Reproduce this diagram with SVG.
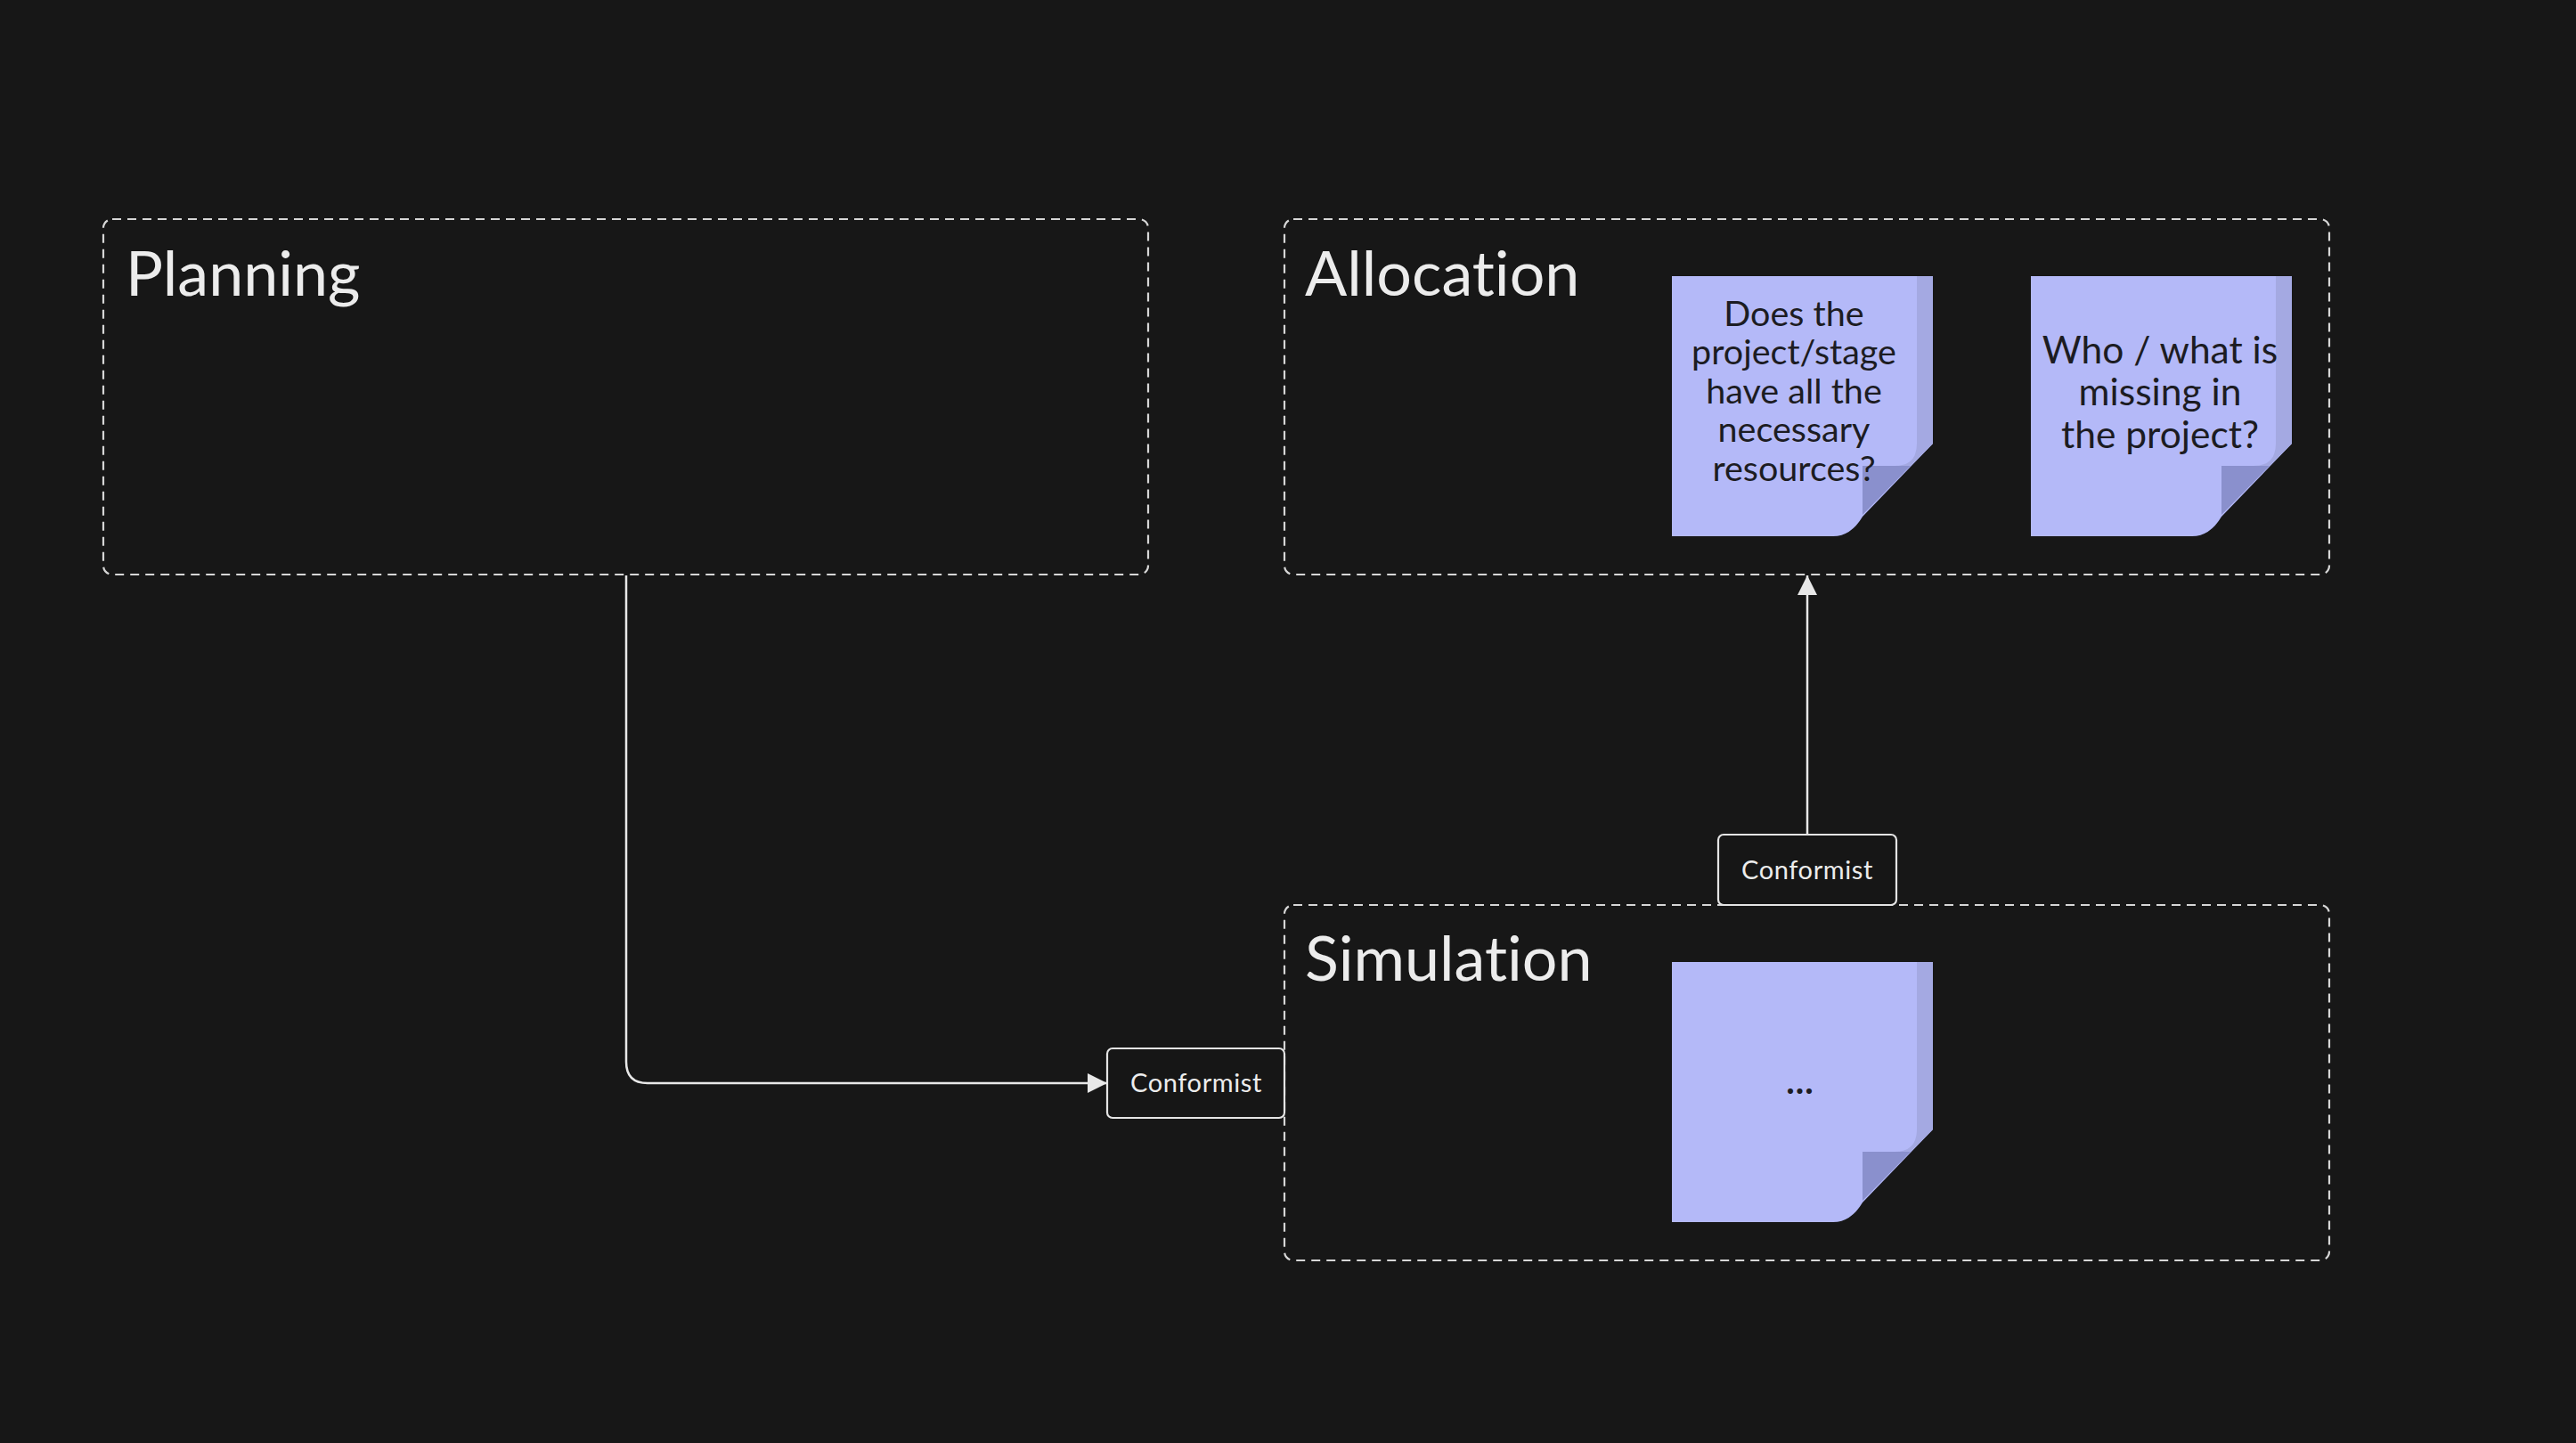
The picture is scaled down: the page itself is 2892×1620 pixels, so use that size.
<svg xmlns="http://www.w3.org/2000/svg" width="2892" height="1620" viewBox="0 0 2892 1620">
<defs>
<style>
text{font-variant-ligatures:none;font-feature-settings:"liga" 0,"clig" 0}
.ctx{fill:none;stroke:#d6d6d6;stroke-width:2.2;stroke-dasharray:10 7}
.title{font-family:Lato,"Liberation Sans",sans-serif;font-size:70px;fill:#ececec}
.note-text{font-family:Lato,"Liberation Sans",sans-serif;fill:#1c1c22;text-anchor:middle}
.lbl{fill:#161616;stroke:#e4e4e4;stroke-width:2.2}
.lbl-text{font-family:Lato,"Liberation Sans",sans-serif;font-size:29px;fill:#ececec;text-anchor:middle;letter-spacing:0.6px}
.conn{fill:none;stroke:#e8e8e8;stroke-width:2.5}
</style>
<marker id="arrow" viewBox="0 0 22 22" refX="22" refY="11" markerWidth="22" markerHeight="22" markerUnits="userSpaceOnUse" orient="auto">
<path d="M0,0 L22,11 L0,22 Z" fill="#e8e8e8"/>
</marker>
<g id="sticky">
<path d="M0,0 H293 V188 L214,270 Q201,292 181,292 H0 Z" fill="#b4b9f8"/>
<path d="M275,0 H293 V188 L268,213 H250 Q275,213 275,188 Z" fill="#a4a9e2"/>
<path d="M214,213 H268 L214,268 Z" fill="#8a90cd"/>
</g>
</defs>
<rect width="2892" height="1620" fill="#171717"/>

<g id="planning">
<rect class="ctx" x="116" y="246" width="1173" height="399" rx="10"/>
<text class="title" x="141" y="332">Planning</text>
</g>

<g id="allocation">
<rect class="ctx" x="1442" y="246" width="1173" height="399" rx="10"/>
<text class="title" x="1465" y="332">Allocation</text>
</g>

<g id="simulation">
<rect class="ctx" x="1442" y="1016" width="1173" height="399" rx="10"/>
<text class="title" x="1465" y="1101">Simulation</text>
</g>

<g id="note-resources">
<use href="#sticky" x="1877" y="310"/>
<text class="note-text" font-size="39.5" x="2014"><tspan x="2014" y="366">Does the</tspan><tspan x="2014" y="409">project/stage</tspan><tspan x="2014" y="453">have all the</tspan><tspan x="2014" y="496">necessary</tspan><tspan x="2014" y="540">resources?</tspan></text>
</g>

<g id="note-missing">
<use href="#sticky" x="2280" y="310"/>
<text class="note-text" font-size="42.5" x="2425"><tspan x="2425" y="408">Who / what is</tspan><tspan x="2425" y="455">missing in</tspan><tspan x="2425" y="503">the project?</tspan></text>
</g>

<g id="note-sim">
<use href="#sticky" x="1877" y="1080"/>
<text class="note-text" font-size="40" font-weight="bold" x="2021" y="1228" letter-spacing="1">...</text>
</g>

<g id="connectors">
<path class="conn" d="M703,646 V1192 Q703,1216 727,1216 H1243" marker-end="url(#arrow)"/>
<path class="conn" d="M2029,937 V646" marker-end="url(#arrow)"/>
<g id="label-planning-sim">
<rect class="lbl" x="1243" y="1177" width="199" height="78" rx="6"/>
<text class="lbl-text" x="1343" y="1226">Conformist</text>
</g>
<g id="label-sim-alloc">
<rect class="lbl" x="1929" y="937" width="200" height="79" rx="6"/>
<text class="lbl-text" x="2029" y="987">Conformist</text>
</g>
</g>
</svg>
